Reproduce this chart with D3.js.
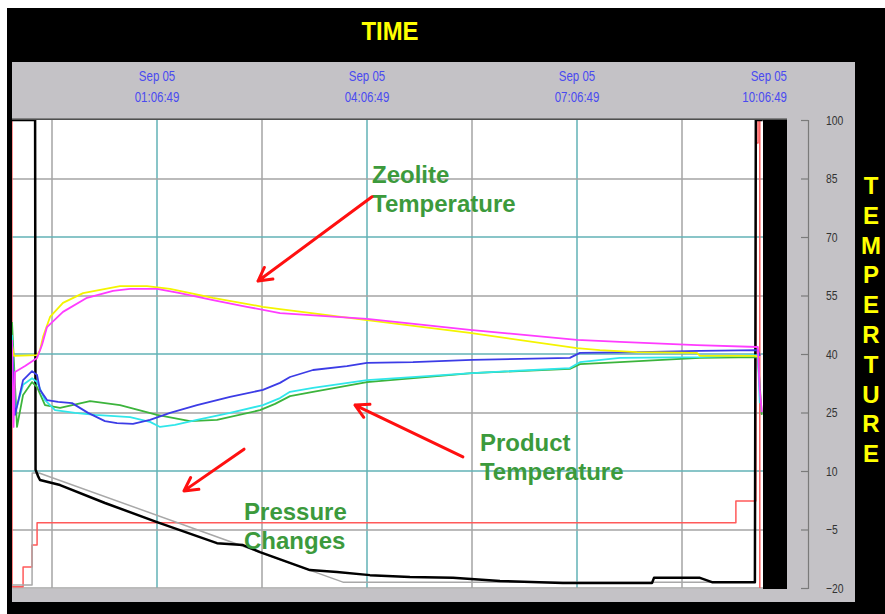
<!DOCTYPE html>
<html>
<head>
<meta charset="utf-8">
<script src="https://cdn.jsdelivr.net/npm/d3@7/dist/d3.min.js"></script>
<style>
  body { margin: 0; background: #fff; }
  svg { display: block; }
</style>
</head>
<body>
<div id="chart"></div>
<script>
// every series: [minutes after Sep 04 23:00, value on the -20..100 axis]
var zeoliteA = [[2.5,42.3],[4.2,39.5],[24,39.7],[26.5,41],[29.1,44.4],[35.1,49.5],[46.2,53.1],[63.4,55.6],[95.1,57.4],[118.2,57.4],[138,56.7],[174.8,54.4],[217.6,52.1],[232.2,51.5],[306.8,48.7],[395,45.4],[486.7,41.5],[506.4,41],[538.2,40.5],[589.6,40.3],[592.2,39.5],[639.3,39.5],[643.5,39.2]];
var zeoliteB = [[2.5,43.6],[3.8,21.3],[5.1,35.4],[13.7,36.9],[24,39],[28.2,42.3],[32.5,46.9],[46.2,50.8],[66.8,54.4],[89.1,56.2],[103.7,56.7],[126.8,56.7],[146.5,55.6],[174.8,53.8],[203.9,52.1],[232.2,50.5],[306.8,49],[395,46.2],[486.7,43.6],[523.6,43.1],[589.6,42.3],[641.8,41.8],[643.5,30.8],[645.2,25.1]];
var productA = [[2.5,42.3],[5.1,24.4],[12,33.3],[19.7,35.6],[24,34.6],[26.5,30.8],[32.5,28.2],[42,27.7],[54,27.4],[67.7,24.9],[82.2,22.8],[92.5,22.3],[106.2,22.1],[120.8,23.1],[138,24.9],[161.1,26.9],[189.4,29],[217.6,30.8],[232.2,32.6],[240.8,34.1],[260.5,35.9],[289.6,36.9],[306.8,37.7],[346.2,37.9],[396.8,38.5],[480.7,39],[489.3,40.3],[540.7,40.5],[592.2,40.8],[641.8,41],[643.5,39.5]];
var productB = [[2.5,44.9],[5.1,24.9],[12,32.1],[19.7,33.8],[24,32.8],[30.8,28.2],[39.4,25.6],[56.5,24.9],[73.7,24.4],[103.7,23.8],[120.8,22.6],[129.4,21.3],[142.2,21.8],[161.1,23.1],[189.4,24.9],[217.6,26.9],[232.2,28.7],[240.8,30.3],[260.5,31.3],[306.8,33.3],[396.8,35.1],[480.7,36.4],[489.3,37.9],[523.6,39],[592.2,39.2],[641.8,39.7],[643.5,27.4]];
var productC = [[2.5,48.2],[6.8,21.3],[12,29.5],[19.7,32.8],[24,31.5],[30.8,26.9],[43.7,26.2],[69.4,27.9],[95.1,26.9],[126.8,24.4],[155.1,22.8],[178.2,23.1],[215.1,25.6],[228,27.2],[240.8,29.2],[260.5,30.3],[306.8,32.8],[396.8,35.1],[480.7,36.2],[489.3,37.4],[523.6,37.9],[592.2,39],[641.8,39.2],[645.2,24.4]];
var pressureA = [[2.5,100],[22.3,100],[22.7,10.3],[24.8,8.7],[26.5,7.7],[43.7,6.4],[82.2,1.8],[126.8,-3.1],[178.2,-8.5],[200.5,-9],[215.1,-10.8],[257.9,-15.4],[281.1,-15.9],[309.3,-16.7],[343.6,-17.2],[380.5,-17.4],[420.8,-18.2],[474.7,-18.7],[551.1,-18.7],[552.8,-17.4],[592.2,-17.4],[602.5,-18.5],[639.3,-18.5],[640.1,100],[646,100]];
var pressureB = [[2.5,-19.2],[19.7,-19.2],[19.8,9.5],[25.7,9.5],[286.2,-18.5],[639.3,-18.5]];
var setpoint = [[2.4,100],[2.5,-19.7],[12,-19.7],[12,-14.6],[19.7,-14.6],[19.7,-9],[24,-9],[24,-3.3],[623,-3.3],[623,2.3],[640.1,2.3],[640.1,94.1],[642,94.1],[642,100],[643.5,100],[643.5,-20]];

var timeTicks = ["2013-09-05 01:06:49", "2013-09-05 04:06:49", "2013-09-05 07:06:49", "2013-09-05 10:06:49"];
var tempTicks = [100, 85, 70, 55, 40, 25, 10, -5, -20];
var yAxisLetters = "TEMPERTURE".split("");

var parse = d3.timeParse("%Y-%m-%d %H:%M:%S");
var base = parse("2013-09-04 23:00:00");
function toDate(m) { return new Date(base.getTime() + m * 60000); }

var plotL = 12, plotR = 763, plotT = 120, plotB = 588;
var font = '"Liberation Sans", Arial, sans-serif';

var x = d3.scaleTime()
  .domain([parse("2013-09-04 23:02:30"), parse("2013-09-05 10:06:49")])
  .range([12, 787]);
var y = d3.scaleLinear().domain([-20, 100]).range([588, 120]);

var svg = d3.select("#chart").append("svg")
  .attr("width", 885).attr("height", 614);

// frame
svg.append("rect").attr("x", 7).attr("y", 8).attr("width", 878).attr("height", 606).attr("fill", "#000");
svg.append("rect").attr("x", 12).attr("y", 62).attr("width", 843).attr("height", 57).attr("fill", "#c4c2c6");
svg.append("rect").attr("x", 787).attr("y", 118).attr("width", 68).attr("height", 484).attr("fill", "#c4c2c6");
svg.append("rect").attr("x", 12).attr("y", 589).attr("width", 843).attr("height", 13).attr("fill", "#c4c2c6");
svg.append("rect").attr("x", plotL).attr("y", plotT).attr("width", plotR - plotL).attr("height", plotB - plotT + 1).attr("fill", "#fff");
svg.append("line").attr("x1", 12).attr("x2", 787).attr("y1", 119).attr("y2", 119).attr("stroke", "#6a6a6a").attr("stroke-width", 1.5);

// squeezed text, the original uses a narrow face
function narrowText(g, tx, ty, sx, str) {
  return g.append("text")
    .attr("transform", "translate(" + tx + "," + ty + ") scale(" + sx + ",1)")
    .text(str);
}

var title = svg.append("g")
  .attr("text-anchor", "middle")
  .style("font-family", font)
  .style("font-weight", "bold").style("font-size", "26px")
  .attr("fill", "#ffff00");
narrowText(title, 390, 40, 0.92, "TIME");

// header time labels
var tickDates = timeTicks.map(parse);
var hdr = svg.append("g")
  .style("font-family", font)
  .style("font-size", "14px").attr("fill", "#4a4af0");
tickDates.forEach(function (d, i) {
  var last = i === tickDates.length - 1;
  var g = hdr.append("g").attr("text-anchor", last ? "end" : "middle");
  narrowText(g, x(d), 81, 0.82, d3.timeFormat("%b %d")(d));
  narrowText(g, x(d), 102, 0.82, d3.timeFormat("%H:%M:%S")(d));
});

var plot = svg.append("g");
plot.append("clipPath").attr("id", "clip")
  .append("rect").attr("x", plotL).attr("y", plotT).attr("width", plotR - plotL).attr("height", plotB - plotT + 1);

// grid, every 1.5 h and every 15 units
var grid = plot.append("g").attr("clip-path", "url(#clip)");
var vGrid = d3.range(-1, 6).map(function (k) { return d3.timeMinute.offset(tickDates[0], k * 90); });
vGrid.forEach(function (d, k) {
  grid.append("line")
    .attr("x1", Math.round(x(d))).attr("x2", Math.round(x(d)))
    .attr("y1", plotT).attr("y2", plotB)
    .attr("stroke", k % 2 === 1 ? "#62b2b6" : "#a4a4a4").attr("stroke-width", 1.5);
});
tempTicks.slice(1).forEach(function (v) {
  var cyan = ((v + 20) / 15) % 2 === 0 && v !== -20;
  grid.append("line")
    .attr("x1", plotL).attr("x2", plotR)
    .attr("y1", Math.round(y(v))).attr("y2", Math.round(y(v)))
    .attr("stroke", cyan ? "#62b2b6" : "#a4a4a4").attr("stroke-width", 1.5);
});

var line = d3.line()
  .x(function (d) { return x(toDate(d[0])); })
  .y(function (d) { return y(d[1]); });

var series = [
  { data: setpoint, color: "#ff5a5a", width: 1.5 },
  { data: pressureB, color: "#a8a8a8", width: 1.5 },
  { data: pressureA, color: "#000000", width: 2.5 },
  { data: productC, color: "#3cb43c", width: 1.8 },
  { data: productB, color: "#30e6ea", width: 1.8 },
  { data: productA, color: "#3c3ce6", width: 1.8 },
  { data: zeoliteA, color: "#f4f400", width: 1.8 },
  { data: zeoliteB, color: "#ff3cff", width: 1.8 }
];
var lines = plot.append("g").attr("clip-path", "url(#clip)");
series.forEach(function (s) {
  lines.append("path")
    .attr("d", line(s.data))
    .attr("fill", "none")
    .attr("stroke", s.color)
    .attr("stroke-width", s.width)
    .attr("stroke-linejoin", "round");
});

// left border and the black band on the right
svg.append("rect").attr("x", 7).attr("y", 119).attr("width", 5).attr("height", 470).attr("fill", "#000");
svg.append("rect").attr("x", 763).attr("y", 120).attr("width", 24).attr("height", 469).attr("fill", "#000");

// right axis
var yAxis = d3.axisRight(y).tickValues(tempTicks).tickSizeInner(-7).tickSizeOuter(-7).tickPadding(18);
var ax = svg.append("g").attr("transform", "translate(808,0)").call(yAxis);
ax.selectAll("path, line").attr("stroke", "#7a7a7a").attr("stroke-width", 1.2);
ax.selectAll("text")
  .attr("fill", "#333")
  .attr("x", 18 / 0.8)
  .attr("transform", "scale(0.8,1)")
  .style("font-family", font)
  .style("font-size", "13px");

// vertical axis title
svg.append("g").selectAll("text").data(yAxisLetters).enter().append("text")
  .attr("x", 871)
  .attr("y", function (d, i) { return 194 + i * 29.8; })
  .attr("text-anchor", "middle")
  .style("font-family", font)
  .style("font-weight", "bold").style("font-size", "24px")
  .attr("fill", "#ffff00")
  .text(function (d) { return d; });

// annotations: [minutes, value]
var notes = [
  { lines: ["Zeolite", "Temperature"], at: [311.1, 83.8], tail: [311.1, 80.3], head: [213.4, 58.7] },
  { lines: ["Product", "Temperature"], at: [403.6, 15.1], tail: [389, 13.6], head: [296.5, 26.9] },
  { lines: ["Pressure", "Changes"], at: [201.4, -2.6], tail: [201.4, 15.6], head: [149.9, 4.9] }
];
var ann = svg.append("g");
notes.forEach(function (n) {
  var t = ann.append("text")
    .attr("x", x(toDate(n.at[0]))).attr("y", y(n.at[1]))
    .style("font-family", font)
    .style("font-weight", "bold").style("font-size", "24px")
    .attr("fill", "#3c9a3c");
  n.lines.forEach(function (s, i) {
    t.append("tspan").attr("x", x(toDate(n.at[0]))).attr("dy", i ? 29 : 0).text(s);
  });
  var x1 = x(toDate(n.tail[0])), y1 = y(n.tail[1]);
  var x2 = x(toDate(n.head[0])), y2 = y(n.head[1]);
  var a = Math.atan2(y2 - y1, x2 - x1), len = 15, spread = 0.5;
  var p = d3.path();
  p.moveTo(x1, y1); p.lineTo(x2, y2);
  p.moveTo(x2 - len * Math.cos(a - spread), y2 - len * Math.sin(a - spread));
  p.lineTo(x2, y2);
  p.lineTo(x2 - len * Math.cos(a + spread), y2 - len * Math.sin(a + spread));
  ann.append("path").attr("d", p.toString())
    .attr("fill", "none").attr("stroke", "#ff1010").attr("stroke-width", 3)
    .attr("stroke-linecap", "round").attr("stroke-linejoin", "round");
});
</script>
</body>
</html>
